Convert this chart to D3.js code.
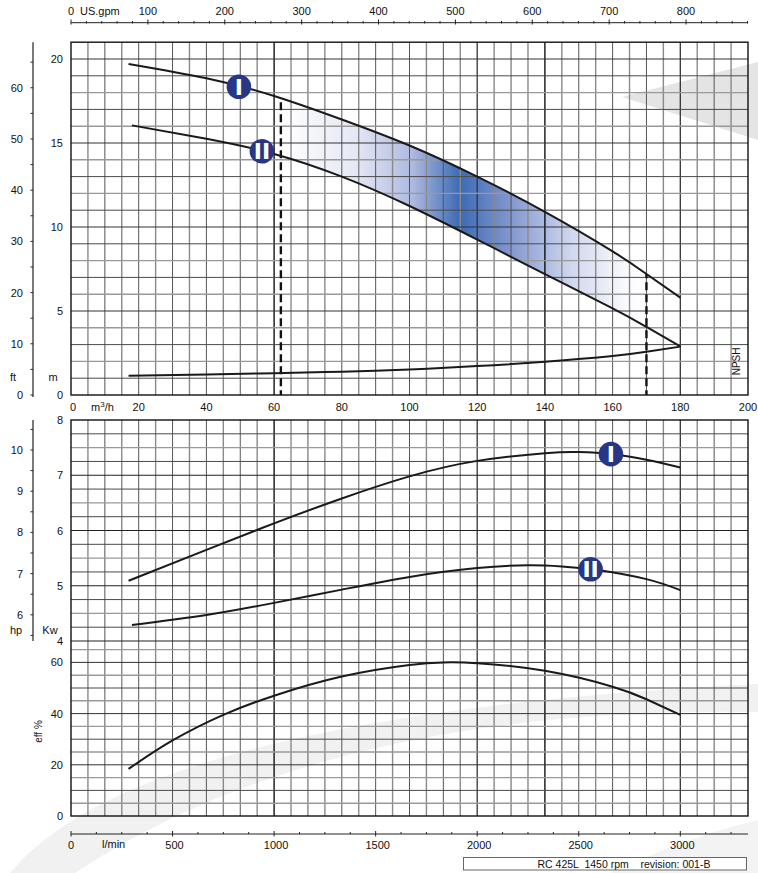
<!DOCTYPE html>
<html>
<head>
<meta charset="utf-8">
<script src="https://cdn.jsdelivr.net/npm/d3@7"></script>
<style>
body { margin: 0; background: #fff; }
text { font-family: "Liberation Sans", Arial, sans-serif; font-size: 11px; fill: #111; }
</style>
</head>
<body>
<svg width="758" height="873"></svg>
<script>
// head curves (m) vs flow (m3/h)
const flowI = [17, 40, 60, 80, 100, 120, 140, 160, 170, 180]
const headI = [19.7, 18.85, 17.8, 16.4, 14.85, 13.0, 10.9, 8.55, 7.2, 5.8]
const flowII = [18, 40, 60, 80, 100, 120, 140, 160, 170, 180]
const headII = [16.05, 15.25, 14.35, 13.0, 11.25, 9.25, 7.2, 5.15, 4.05, 2.9]
const flowN = [17, 40, 60, 80, 100, 120, 140, 160, 170, 180]
const npsh = [1.15, 1.22, 1.30, 1.39, 1.52, 1.72, 1.98, 2.32, 2.57, 2.88]

// power curves (kW)
const flowPI = [17, 40, 60, 80, 100, 120, 140, 150, 160, 170, 180]
const powerI = [5.09, 5.65, 6.13, 6.58, 6.98, 7.26, 7.40, 7.42, 7.38, 7.28, 7.14]
const flowPII = [18, 40, 60, 80, 100, 120, 135, 145, 155, 170, 180]
const powerII = [4.29, 4.47, 4.69, 4.93, 5.16, 5.32, 5.37, 5.35, 5.29, 5.12, 4.92]

// efficiency (%)
const flowE = [17, 30, 45, 60, 80, 100, 110, 120, 140, 160, 170, 180]
const eff = [18.4, 29.5, 39.5, 47.0, 54.5, 59.0, 60.0, 59.7, 56.7, 50.5, 45.6, 39.5]

// duty range and curve badges
const dutyRange = [62, 170]
const headBadges = [{ q: 49.6, curve: 'I' }, { q: 56.4, curve: 'II' }]
const powerBadges = [{ q: 159.5, curve: 'I' }, { q: 153.5, curve: 'II' }]

// tick labels
const flowLabels = [20, 40, 60, 80, 100, 120, 140, 160, 180, 200]
const gpmLabels = [100, 200, 300, 400, 500, 600, 700, 800]
const mLabels = [0, 5, 10, 15, 20]
const ftLabels = [0, 10, 20, 30, 40, 50, 60]
const kwLabels = [4, 5, 6, 7, 8]
const hpLabels = [6, 7, 8, 9, 10]
const effLabels = [0, 20, 40, 60]
const lpmLabels = [0, 500, 1000, 1500, 2000, 2500, 3000]
const footer = 'RC 425L  1450 rpm    revision: 001-B'

const svg = d3.select('svg')
const L = 71, R = 748
const topA = 42.2, botA = 395, topB = 420, botB = 816

const x = d3.scaleLinear().domain([0, 200]).range([L, R])
const yH = d3.scaleLinear().domain([0, 21]).range([botA, topA])
const yFt = d3.scaleLinear().domain([0, 21 * 3.28084]).range([botA, topA])
const gpm = d3.scaleLinear().domain([0, 200 * 4.40287]).range([L, R])
const yKw = d3.scaleLinear().domain([4, 8]).range([641, topB])
const yHp = d3.scaleLinear().domain([4 / 0.7457, 8 / 0.7457]).range([641, topB])
const yEff = d3.scaleLinear().domain([0, 65]).range([botB, 649.6])
const lpm = d3.scaleLinear().domain([0, 200 / 0.06]).range([L, R])

const pts = (qs, vs) => qs.map((q, i) => [q, vs[i]])
const lineH = d3.line().x(d => x(d[0])).y(d => yH(d[1])).curve(d3.curveNatural)
const lineKw = d3.line().x(d => x(d[0])).y(d => yKw(d[1])).curve(d3.curveNatural)
const lineEff = d3.line().x(d => x(d[0])).y(d => yEff(d[1])).curve(d3.curveNatural)

const dI = pts(flowI, headI), dII = pts(flowII, headII)

// watermark swooshes
const wm = svg.append('g')
wm.append('path').attr('d', 'M622,97 L758,62 L758,140 Z').attr('fill', '#e4e4e4')
wm.append('path').attr('d', 'M10,873 Q140,715 758,684 L758,712 Q330,705 75,873 Z').attr('fill', '#f1f1f1')
wm.append('path').attr('d', 'M610,873 Q690,836 758,820 L758,873 Z').attr('fill', '#f3f3f3')

// gradient band between the head curves
const defs = svg.append('defs')
const grad = defs.append('linearGradient').attr('id', 'band')
    .attr('gradientUnits', 'userSpaceOnUse')
    .attr('x1', x(dutyRange[0])).attr('x2', x(dutyRange[1]))
    .attr('y1', 0).attr('y2', 0)
const stops = [[0, '#ffffff'], [0.2, '#e6e9f5'], [0.36, '#aeb9df'], [0.49, '#3c6bb4'],
    [0.62, '#7f94cd'], [0.8, '#d2d9ef'], [0.95, '#fbfbfe'], [1, '#ffffff']]
grad.selectAll('stop').data(stops).enter().append('stop')
    .attr('offset', d => d[0]).attr('stop-color', d => d[1])

defs.append('clipPath').attr('id', 'duty').append('rect')
    .attr('x', x(dutyRange[0])).attr('y', topA)
    .attr('width', x(dutyRange[1]) - x(dutyRange[0])).attr('height', botA - topA)
defs.append('clipPath').attr('id', 'underI').append('path')
    .attr('d', lineH(dI) + `L${x(180)},${botA}L${x(17)},${botA}Z`)

svg.append('path')
    .attr('d', lineH(dI) + lineH(dII.slice().reverse()).replace(/^M/, 'L') + 'Z')
    .attr('fill', 'url(#band)')
    .attr('clip-path', 'url(#duty)')

// grid
const vStyle = q => q === 60 || q === 140 ? ['#000', 1.3]
    : q === 120 || q === 180 ? ['#333', 1.3]
    : q % 10 === 0 ? ['#555', 1] : ['#8a8a8a', 1.4]
const grid = svg.append('g')
const panels = [[topA, botA], [topB, botB]]
panels.forEach(([t, b]) => {
    grid.append('g').selectAll('line').data(d3.range(5, 200, 5)).enter().append('line')
        .attr('x1', d => x(d)).attr('x2', d => x(d))
        .attr('y1', t).attr('y2', b)
        .attr('stroke', d => vStyle(d)[0]).attr('stroke-width', d => vStyle(d)[1])
})
const hStyle = i => i % 2 ? ['#4a4a4a', 1] : ['#999', 1.4]
grid.append('g').selectAll('line').data(d3.range(1, 21)).enter().append('line')
    .attr('x1', L).attr('x2', R).attr('y1', d => yH(d)).attr('y2', d => yH(d))
    .attr('stroke', d => d % 5 === 0 ? '#333' : hStyle(d)[0])
    .attr('stroke-width', d => d % 5 === 0 ? 1 : hStyle(d)[1])
grid.append('g').selectAll('line').data(d3.range(4, 8, 0.25)).enter().append('line')
    .attr('x1', L).attr('x2', R).attr('y1', d => yKw(d)).attr('y2', d => yKw(d))
    .attr('stroke', (d, i) => d % 1 === 0 ? '#222' : hStyle(i)[0])
    .attr('stroke-width', (d, i) => d % 1 === 0 ? 1.2 : hStyle(i)[1])
grid.append('g').selectAll('line').data(d3.range(5, 66, 5)).enter().append('line')
    .attr('x1', L).attr('x2', R).attr('y1', d => yEff(d)).attr('y2', d => yEff(d))
    .attr('stroke', (d, i) => d % 20 === 0 ? '#333' : hStyle(i)[0])
    .attr('stroke-width', (d, i) => d % 20 === 0 ? 1 : hStyle(i)[1])

// frames
panels.forEach(([t, b]) => {
    svg.append('rect').attr('x', L).attr('y', t).attr('width', R - L).attr('height', b - t)
        .attr('fill', 'none').attr('stroke', '#111').attr('stroke-width', 1.4)
})

// duty dashed limits
svg.append('g').attr('clip-path', 'url(#underI)')
    .selectAll('line').data(dutyRange).enter().append('line')
    .attr('x1', d => x(d)).attr('x2', d => x(d)).attr('y1', topA).attr('y2', botA)
    .attr('stroke', '#111').attr('stroke-width', 2.4).attr('stroke-dasharray', '8,4')

// curves
const curves = [
    lineH(dI), lineH(dII), lineH(pts(flowN, npsh)),
    lineKw(pts(flowPI, powerI)), lineKw(pts(flowPII, powerII)),
    lineEff(pts(flowE, eff))
]
svg.append('g').selectAll('path').data(curves).enter().append('path')
    .attr('d', d => d).attr('fill', 'none').attr('stroke', '#1a1a1a').attr('stroke-width', 2)

// badges
const headAt = { I: d3.scaleLinear().domain(flowI).range(headI), II: d3.scaleLinear().domain(flowII).range(headII) }
const powAt = { I: d3.scaleLinear().domain(flowPI).range(powerI), II: d3.scaleLinear().domain(flowPII).range(powerII) }
const badgeData = headBadges.map(b => ({ cx: x(b.q), cy: yH(headAt[b.curve](b.q)), t: b.curve }))
    .concat(powerBadges.map(b => ({ cx: x(b.q), cy: yKw(powAt[b.curve](b.q)), t: b.curve })))
const badge = svg.append('g').selectAll('g').data(badgeData).enter().append('g')
    .attr('transform', d => `translate(${d.cx},${d.cy})`)
badge.append('circle').attr('r', 12.3).attr('fill', '#283686')
badge.append('text').text(d => d.t)
    .attr('text-anchor', 'middle').attr('dy', '0.36em')
    .style('font-family', '"DejaVu Sans", sans-serif').style('font-weight', '900')
    .style('font-size', '22px').style('fill', '#fff')

// ---- axes ----
const ax = svg.append('g')
const tick = (g, data, x1, y1, x2, y2) => g.append('g').selectAll('line').data(data).enter().append('line')
    .attr('x1', x1).attr('y1', y1).attr('x2', x2).attr('y2', y2)
    .attr('stroke', '#222').attr('stroke-width', 1)
const label = (data, fx, fy, anchor, fmt) => ax.append('g').selectAll('text').data(data).enter().append('text')
    .attr('x', fx).attr('y', fy).attr('text-anchor', anchor).text(fmt || (d => d))

// US.gpm top axis
ax.append('line').attr('x1', L).attr('x2', R).attr('y1', 22.7).attr('y2', 22.7).attr('stroke', '#222')
tick(ax, d3.range(0, 881, 20), d => gpm(d), d => d % 100 === 0 ? 19.5 : 21, d => gpm(d), d => d % 100 === 0 ? 24.5 : 23.5)
label(gpmLabels, d => gpm(d), 15, 'middle')
ax.append('text').attr('x', L).attr('y', 15).attr('text-anchor', 'middle').text('0')
ax.append('text').attr('x', 80).attr('y', 15).text('US.gpm')

// m3/h labels
label(flowLabels, d => x(d), 411, 'middle')
ax.append('text').attr('x', 73).attr('y', 411).attr('text-anchor', 'middle').text('0')
const m3 = ax.append('text').attr('x', 91).attr('y', 411)
m3.append('tspan').text('m')
m3.append('tspan').text('3').attr('dy', -4).style('font-size', '8px')
m3.append('tspan').text('/h').attr('dy', 4)

// head axes
label(mLabels, 63, d => yH(d) + 4, 'end')
ax.append('line').attr('x1', 33).attr('x2', 33).attr('y1', topA).attr('y2', botA + 2).attr('stroke', '#222').attr('stroke-width', 1.2)
tick(ax, d3.range(0, 69, 5), 30.5, d => yFt(d), 33, d => yFt(d))
label(ftLabels, 23, d => yFt(d) + 4, 'end')
ax.append('text').attr('x', 13).attr('y', 381).attr('text-anchor', 'middle').text('ft')
ax.append('text').attr('x', 53).attr('y', 381).attr('text-anchor', 'middle').text('m')
ax.append('text').attr('transform', `translate(740,${yH(2.0)}) rotate(-90)`)
    .attr('text-anchor', 'middle').style('font-size', '10px').text('NPSH')

// power axes
label(kwLabels, 63, d => yKw(d) + 4, 'end')
ax.append('line').attr('x1', 33).attr('x2', 33).attr('y1', topB).attr('y2', 641).attr('stroke', '#222').attr('stroke-width', 1.2)
tick(ax, d3.range(5.5, 10.75, 0.5), 30.5, d => yHp(d), 33, d => yHp(d))
label(hpLabels, 23, d => yHp(d) + 4, 'end')
ax.append('text').attr('x', 16).attr('y', 634).attr('text-anchor', 'middle').text('hp')
ax.append('text').attr('x', 50).attr('y', 634).attr('text-anchor', 'middle').text('Kw')

// efficiency axis
label(effLabels, 63, d => yEff(d) + 4, 'end')
ax.append('text').attr('transform', `translate(42,${yEff(33)}) rotate(-90)`)
    .attr('text-anchor', 'middle').style('font-size', '10px').text('eff %')

// l/min bottom axis
ax.append('line').attr('x1', L).attr('x2', R).attr('y1', 834).attr('y2', 834).attr('stroke', '#222')
tick(ax, d3.range(0, 3334, 125), d => lpm(d), d => d % 500 === 0 ? 831 : 832, d => lpm(d), d => d % 500 === 0 ? 836.5 : 834)
label(lpmLabels, d => lpm(d) + (d === 0 ? 0 : 2), 849, 'middle')
ax.append('text').attr('x', 102).attr('y', 848).text('l/min')

// footer box
ax.append('rect').attr('x', 463.5).attr('y', 857.5).attr('width', 283).attr('height', 12.5)
    .attr('fill', '#fff').attr('stroke', '#666').attr('stroke-width', 1)
ax.append('text').attr('x', 624).attr('y', 867.5).attr('text-anchor', 'middle')
    .style('font-size', '10.5px').style('white-space', 'pre').text(footer)
</script>
</body>
</html>
